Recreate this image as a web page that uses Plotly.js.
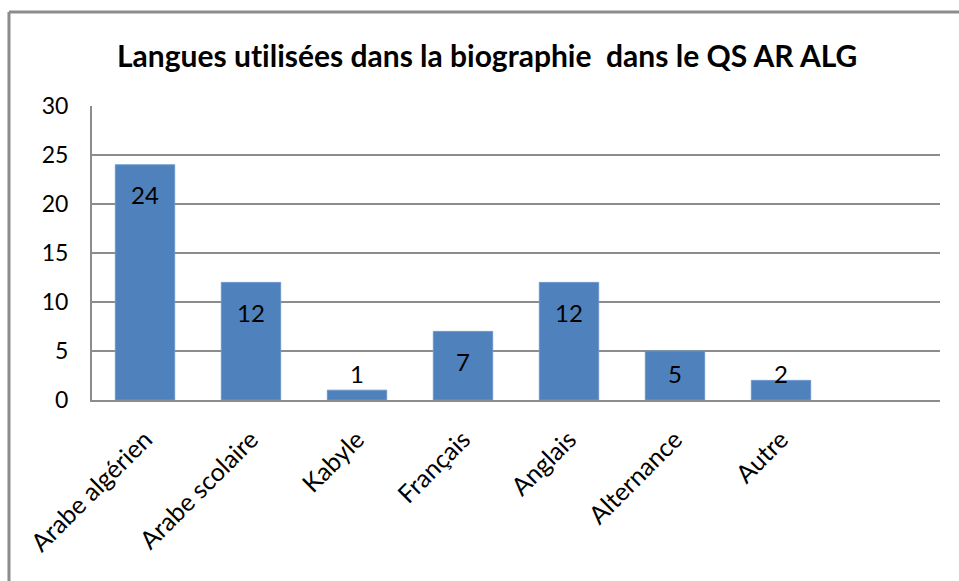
<!DOCTYPE html>
<html>
<head>
<meta charset="utf-8">
<script src="https://cdn.plot.ly/plotly-3.0.1.min.js"></script>
<style>html,body{margin:0;padding:0;background:#fff;}#chart{width:959px;height:581px;}
#chart text{font-variant-ligatures:none;font-feature-settings:"liga" 0;}</style>
</head>
<body>
<div id="chart"></div>
<script>
var categories = ["Arabe algérien", "Arabe scolaire", "Kabyle", "Français", "Anglais", "Alternance", "Autre"];
var values = [24, 12, 1, 7, 12, 5, 2];
var yTicks = [0, 5, 10, 15, 20, 25, 30];
var titleText = "Langues utilisées dans la biographie&nbsp; dans le QS AR ALG";

var FONT = "Lato, 'Open Sans', sans-serif";
var GRID = "#8c8c8c";

var annotations = categories.map(function (c, i) {
  return {
    x: c, y: Math.max(values[i] - 3.05, 2.75), xref: "x", yref: "y",
    text: String(values[i]), showarrow: false,
    font: {family: FONT, size: 24, color: "#000"},
    xanchor: "center", yanchor: "middle"
  };
});

var trace = {
  type: "bar",
  x: categories,
  y: values,
  marker: {color: "#4F81BD", line: {color: "#6b96cc", width: 1}},
  hoverinfo: "x+y"
};

var layout = {
  width: 959, height: 581,
  margin: {l: 92, r: 19, t: 106, b: 181},
  paper_bgcolor: "#fff", plot_bgcolor: "#fff",
  showlegend: false,
  bargap: 0.44,
  title: {
    text: "<b>" + titleText + "</b>",
    font: {family: FONT, size: 30, color: "#000"},
    xref: "container", x: 0.508, xanchor: "center",
    yref: "container", y: 0.902, yanchor: "middle"
  },
  xaxis: {
    type: "category",
    range: [-0.5, 7.5],
    showgrid: false,
    showline: true, linecolor: GRID, linewidth: 2,
    ticks: "", tickangle: -45,
    tickfont: {family: FONT, size: 25, color: "#000"},
    ticklabelstandoff: 13,
    fixedrange: true
  },
  yaxis: {
    range: [0, 30],
    tickvals: yTicks,
    showgrid: true, gridcolor: GRID, gridwidth: 2,
    showline: true, linecolor: GRID, linewidth: 2,
    zeroline: false,
    ticks: "",
    tickfont: {family: FONT, size: 23, color: "#000"},
    ticklabelstandoff: 17,
    fixedrange: true
  },
  annotations: annotations,
  shapes: [
    {type: "line", xref: "paper", yref: "paper", x0: -0.0979, x1: -0.0979, y0: 1.3197, y1: -0.75,
     line: {color: "#8c8c8c", width: 3}},
    {type: "line", xref: "paper", yref: "paper", x0: -0.0979, x1: 1.03, y0: 1.3197, y1: 1.3197,
     line: {color: "#8c8c8c", width: 3}}
  ]
};

Plotly.newPlot("chart", [trace], layout, {displayModeBar: false, staticPlot: true});
</script>
</body>
</html>
